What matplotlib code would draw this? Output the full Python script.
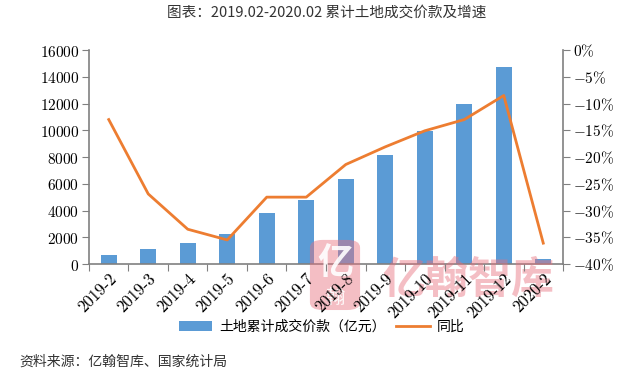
import numpy as np
import matplotlib
matplotlib.use("Agg")
import matplotlib.pyplot as plt
from matplotlib.ticker import FuncFormatter
from matplotlib.patches import FancyBboxPatch

plt.rcParams['font.family'] = ['Noto Sans CJK SC', 'DejaVu Sans']
plt.rcParams['mathtext.fontset'] = 'cm'

# data
months = ['2019-2', '2019-3', '2019-4', '2019-5', '2019-6', '2019-7',
          '2019-8', '2019-9', '2019-10', '2019-11', '2019-12', '2020-2']
land_value = [670, 1120, 1590, 2240, 3810, 4790, 6350, 8150, 9970, 11960, 14730, 370]
yoy = [-13.0, -26.9, -33.5, -35.5, -27.5, -27.5, -21.4, -18.1, -15.1, -13.0, -8.5, -36.1]

bar_color = '#5B9BD5'
line_color = '#ED7D31'
grey = '#808080'
wm_color = '#E8707E'

fig = plt.figure(figsize=(6.43, 3.79), dpi=100)
ax = fig.add_axes([0.1384, 0.3034, 0.7372, 0.5646])
x = np.arange(len(months))

bars = ax.bar(x, land_value, width=0.4, color=bar_color, zorder=2,
              label='土地累计成交价款（亿元）')
ax.set_xlim(-0.5, len(months) - 0.5)
ax.set_ylim(0, 16000)
ax.set_yticks(range(0, 16001, 2000))
ax.yaxis.set_major_formatter(FuncFormatter(lambda v, p: r'$%d$' % v))
# category borders get the tick marks, labels sit under the bars
ax.set_xticks(np.arange(len(months) + 1) - 0.5, minor=False)
ax.set_xticklabels([])
ax.set_xticks(x, minor=True)
ax.set_xticklabels(months, minor=True, family='cmr10', fontsize=12,
                   rotation=45, ha='right', rotation_mode='anchor')
ax.tick_params(axis='x', which='minor', length=0, pad=5)
ax.tick_params(axis='x', which='major', length=5, color=grey)
ax.tick_params(axis='y', length=5, color=grey, labelsize=11, pad=2)
ax.xaxis.set_zorder(5)

ax2 = ax.twinx()
line, = ax2.plot(x, yoy, color=line_color, lw=2, zorder=3, label='同比')
ax2.set_ylim(-40, 0)
ax2.set_yticks(range(-40, 1, 5))
ax2.yaxis.set_major_formatter(
    FuncFormatter(lambda v, p: r'$%d\%%$' % v if v == 0 else r'$-%d\%%$' % abs(v)))
ax2.tick_params(axis='y', length=5, color=grey, labelsize=11, pad=2)

for a in (ax, ax2):
    a.spines['top'].set_visible(False)
    for s in ('left', 'right', 'bottom'):
        a.spines[s].set_color(grey)
        a.spines[s].set_linewidth(1.2)
ax.spines['right'].set_visible(False)
ax2.spines['left'].set_visible(False)
ax2.spines['bottom'].set_visible(False)

# watermark: logo block + name, over the bars, under the tick labels
logo = FancyBboxPatch((0.482, 0.182), 0.078, 0.185, boxstyle='round,pad=0,rounding_size=0.02',
                      transform=fig.transFigure, facecolor=wm_color, edgecolor='none',
                      alpha=0.45, zorder=3, clip_on=False)
ax.add_patch(logo)
ax.text(0.521, 0.305, '亿', transform=fig.transFigure, fontsize=26, color='white',
        ha='center', va='center', weight='bold', zorder=3.1, clip_on=False, alpha=0.9)
ax.text(0.521, 0.215, '翰', transform=fig.transFigure, fontsize=14, color='white',
        ha='center', va='center', zorder=3.1, clip_on=False, alpha=0.9)
ax.text(0.729, 0.261, '亿翰智库', transform=fig.transFigure, fontsize=31,
        color=wm_color, alpha=0.45, ha='center', va='center', weight='bold',
        zorder=3, clip_on=False)

fig.text(0.508, 0.966, '图表：2019.02-2020.02 累计土地成交价款及增速',
         ha='center', va='center', fontsize=10.5, color='#333333')

fig.legend(handles=[bars, line], loc='center', bbox_to_anchor=(0.5, 0.138),
           ncol=2, frameon=False, fontsize=10, handlelength=2.4,
           columnspacing=0.8, handletextpad=0.5)

fig.text(0.03, 0.045, '资料来源：亿翰智库、国家统计局', fontsize=10,
         ha='left', va='center', color='#333333')

fig.savefig('out.png', dpi=100)
